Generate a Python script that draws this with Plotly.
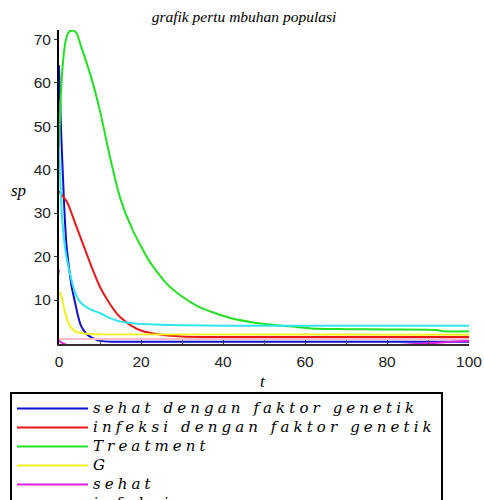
import plotly.graph_objects as go

# ---------------- data ----------------
T_SEHAT_G = [0, 0.4, 0.8, 1.3, 1.8, 2.5, 3.2, 3.9, 4.6, 5.3, 6.2, 7.2, 8.5, 10, 13, 100]
V_SEHAT_G = [64, 52, 42, 31, 23, 17, 12.5, 9.5, 6.5, 4.2, 2.8, 1.8, 1.1, 0.6, 0.4, 0.4]

T_INFEKSI_G = [0, 2, 4, 6, 8, 10, 12, 14, 16, 18, 20, 25, 30, 35, 100]
V_INFEKSI_G = [35, 32.5, 27.5, 22.5, 17.5, 13, 9.7, 7.0, 5.2, 3.9, 3.0, 2.0, 1.6, 1.5, 1.5]

T_TREAT = [0, 0.5, 1, 1.6, 2.3, 3.2, 4.2, 5.5, 7.6, 10, 12.4, 14.9, 18, 22, 26, 30, 34, 38,
           42, 47, 52, 58, 63, 70, 80, 92, 94, 100]
V_TREAT = [45, 58, 65, 69.5, 71.5, 72, 71.5, 68, 62, 53.5, 43, 33.5, 26, 19, 14, 10.8, 8.5, 7,
           5.8, 4.9, 4.3, 3.8, 3.4, 3.3, 3.2, 3.1, 2.8, 2.8]

T_G = [0, 0.7, 1.5, 2.7, 4, 6, 10, 100]
V_G = [12, 10.5, 7, 4, 2.8, 2.3, 2.1, 2.0]

T_SEHAT = [0, 0.05, 100]
V_SEHAT = [17, 0.6, 0.6]

T_INFEKSI = [0, 100]
V_INFEKSI = [1.05, 1.05]

T_TREAT2 = [0, 0.3, 0.6, 1.1, 1.8, 2.7, 3.5, 4.3, 5.5, 7, 8.5, 10, 12, 14, 17.3, 22, 30, 40, 100]
V_TREAT2 = [45, 38, 31, 25, 20, 16, 13, 10.8, 9.2, 8.2, 7.5, 7.0, 6.0, 5.3, 4.7, 4.4, 4.2, 4.1, 4.1]

NAMES = ["sehat dengan faktor genetik", "infeksi dengan faktor genetik", "Treatment",
         "G", "sehat", "infeksi", "Treatment tanpa G"]
COLORS = ["#1010d0", "#e81818", "#22e022", "#f4f020", "#e020e0", "#ffbccb", "#30e6ee"]

TITLE = "grafik pertu mbuhan populasi"
X_LABEL = "t"
Y_LABEL = "sp"
X_TICKS = [0, 20, 40, 60, 80, 100]
Y_TICKS = [10, 20, 30, 40, 50, 60, 70]

series = [(T_SEHAT_G, V_SEHAT_G), (T_INFEKSI_G, V_INFEKSI_G), (T_TREAT, V_TREAT),
          (T_G, V_G), (T_SEHAT, V_SEHAT), (T_INFEKSI, V_INFEKSI), (T_TREAT2, V_TREAT2)]

fig = go.Figure()
for (tx, vy), name, col in zip(series, NAMES, COLORS):
    label = ('<span style="font-size:15px;letter-spacing:4.1px">' + name + '</span>')
    fig.add_trace(go.Scatter(x=tx, y=vy, mode="lines", name=label,
                             line=dict(color=col, width=2, shape="spline", smoothing=0.6)))

tick_font = dict(family="Liberation Sans Narrow, Arial Narrow, Liberation Sans, sans-serif",
                 size=15.5, color="#222")

fig.update_layout(
    width=484, height=500,
    margin=dict(l=59, r=15, t=30, b=156, autoexpand=False),
    paper_bgcolor="white", plot_bgcolor="white",
    title=dict(text=TITLE, x=244 / 484, xref="container", xanchor="center",
               y=1 - 17 / 500, yanchor="middle",
               font=dict(family="Liberation Serif, DejaVu Serif, serif", size=15.5,
                         style="italic", color="black")),
    showlegend=True,
    legend=dict(x=(10 - 59) / 410, y=(344 - 392) / 314, xanchor="left", yanchor="top",
                bgcolor="white", bordercolor="black", borderwidth=2,
                font=dict(family="DejaVu Serif, Liberation Serif, serif", size=12,
                          style="italic", color="black"),
                itemwidth=71, tracegroupgap=0),
)
fig.update_xaxes(range=[0, 100], tickvals=X_TICKS, ticks="inside", ticklen=4,
                 tickcolor="#333", showgrid=False, zeroline=False,
                 showline=True, linecolor="#3a2c2c", linewidth=2,
                 minor=dict(dtick=10, ticks="inside", ticklen=4, tickcolor="#555"),
                 ticklabelstandoff=2, tickfont=tick_font)
fig.update_yaxes(range=[-0.12, 72.1], tickvals=Y_TICKS, ticks="outside", ticklen=3,
                 tickcolor="#333", showgrid=False, zeroline=False,
                 showline=True, linecolor="black", linewidth=2,
                 ticklabelstandoff=0, tickfont=tick_font)

fig.add_annotation(text=Y_LABEL, xref="paper", yref="paper", x=(18 - 59) / 410,
                   y=(344 - 190) / 314, showarrow=False, xanchor="center", yanchor="middle",
                   font=dict(family="Liberation Serif, DejaVu Serif, serif", size=17,
                             style="italic", color="black"))
fig.add_annotation(text=X_LABEL, xref="paper", yref="paper", x=(263 - 59) / 410,
                   y=(344 - 381) / 314, showarrow=False, xanchor="center", yanchor="middle",
                   font=dict(family="Liberation Serif, DejaVu Serif, serif", size=17,
                             style="italic", color="black"))

fig.write_html("out.html", config={"displayModeBar": False},
               post_script="document.body.style.margin='0';")
